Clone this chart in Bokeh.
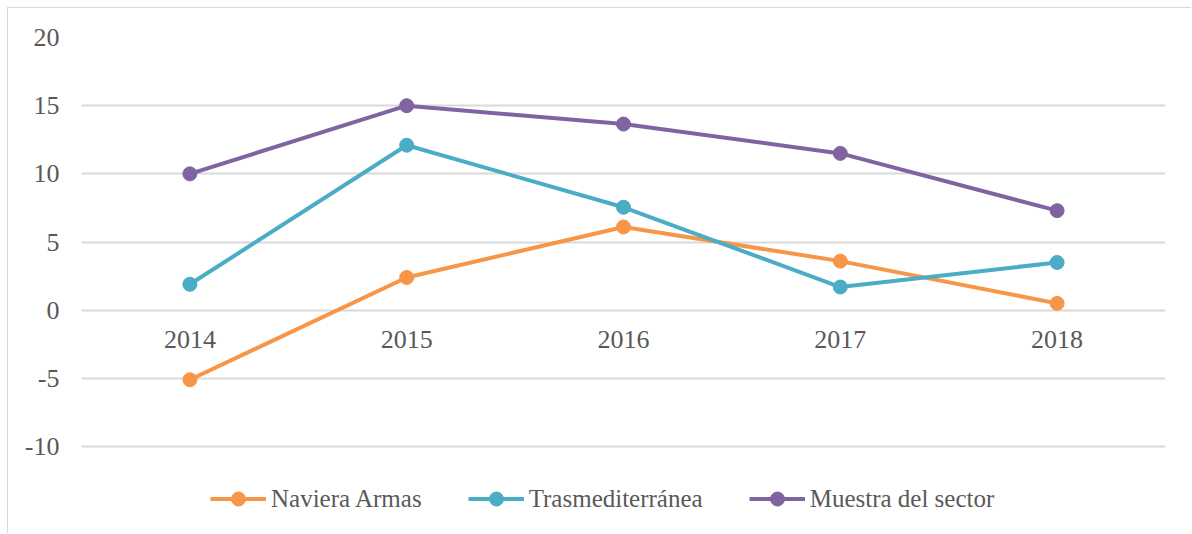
from bokeh.plotting import figure
from bokeh.models import Range1d, FixedTicker, Legend, LegendItem, ColumnDataSource
from bokeh.embed import file_html
from bokeh.resources import INLINE

years = ["2014", "2015", "2016", "2017", "2018"]
naviera = [-5.1, 2.4, 6.1, 3.6, 0.5]
trasmed = [1.9, 12.1, 7.55, 1.7, 3.5]
muestra = [10.0, 15.0, 13.65, 11.5, 7.3]
series_names = ["Naviera Armas", "Trasmediterránea", "Muestra del sector"]
colors = ["#F79646", "#4BACC6", "#8064A2"]
y_ticks = [-10, -5, 0, 5, 10, 15, 20]
y_tick_labels = ["-10", "-5", "0", "5", "10", "15", "20"]

FONT = "Liberation Serif"
TXT = "#595959"
GRID = "#D9D9D9"

p = figure(width=1184, height=526, x_range=years,
           y_range=Range1d(-16.45, 20),
           output_backend="svg", toolbar_location=None,
           min_border_left=73, min_border_right=27,
           min_border_top=29, min_border_bottom=0)
p.styles = {"border-left": "1px solid #D9D9D9", "border-top": "1px solid #D9D9D9",
            "margin-left": "7px", "margin-top": "7px"}
p.outline_line_color = None
p.background_fill_color = "white"

p.yaxis.ticker = FixedTicker(ticks=y_ticks)
p.yaxis.major_label_overrides = {t: s for t, s in zip(y_ticks, y_tick_labels)}
p.yaxis.axis_line_color = None
p.yaxis.major_tick_line_color = None
p.yaxis.minor_tick_line_color = None
p.yaxis.major_label_text_font = FONT
p.yaxis.major_label_text_font_size = "26px"
p.yaxis.major_label_text_color = TXT
p.yaxis.major_label_standoff = 16

p.xaxis.fixed_location = 0
p.xaxis.axis_line_color = None
p.xaxis.major_tick_line_color = None
p.xaxis.minor_tick_line_color = None
p.xaxis.major_label_text_font = FONT
p.xaxis.major_label_text_font_size = "26px"
p.xaxis.major_label_text_color = TXT
p.xaxis.major_label_standoff = 15

p.xgrid.grid_line_color = None
p.ygrid.grid_line_color = GRID
p.ygrid.grid_line_width = 2
p.ygrid.ticker = FixedTicker(ticks=y_ticks)

items = []
for name, vals, col in zip(series_names, [naviera, trasmed, muestra], colors):
    src = ColumnDataSource(dict(x=years, y=vals))
    l = p.line("x", "y", source=src, line_color=col, line_width=4, line_join="round")
    s = p.scatter("x", "y", source=src, size=14, fill_color=col, line_color=col)
    items.append(LegendItem(label=name, renderers=[l, s]))

legend = Legend(items=items, orientation="horizontal", location=(129, 18),
                glyph_width=56, glyph_height=35, label_standoff=5, spacing=46,
                label_text_font=FONT, label_text_font_size="25px",
                label_text_color=TXT, background_fill_alpha=0,
                border_line_alpha=0, padding=0, margin=0)
p.add_layout(legend, "center")

open("out.html", "w").write(file_html(p, INLINE))
